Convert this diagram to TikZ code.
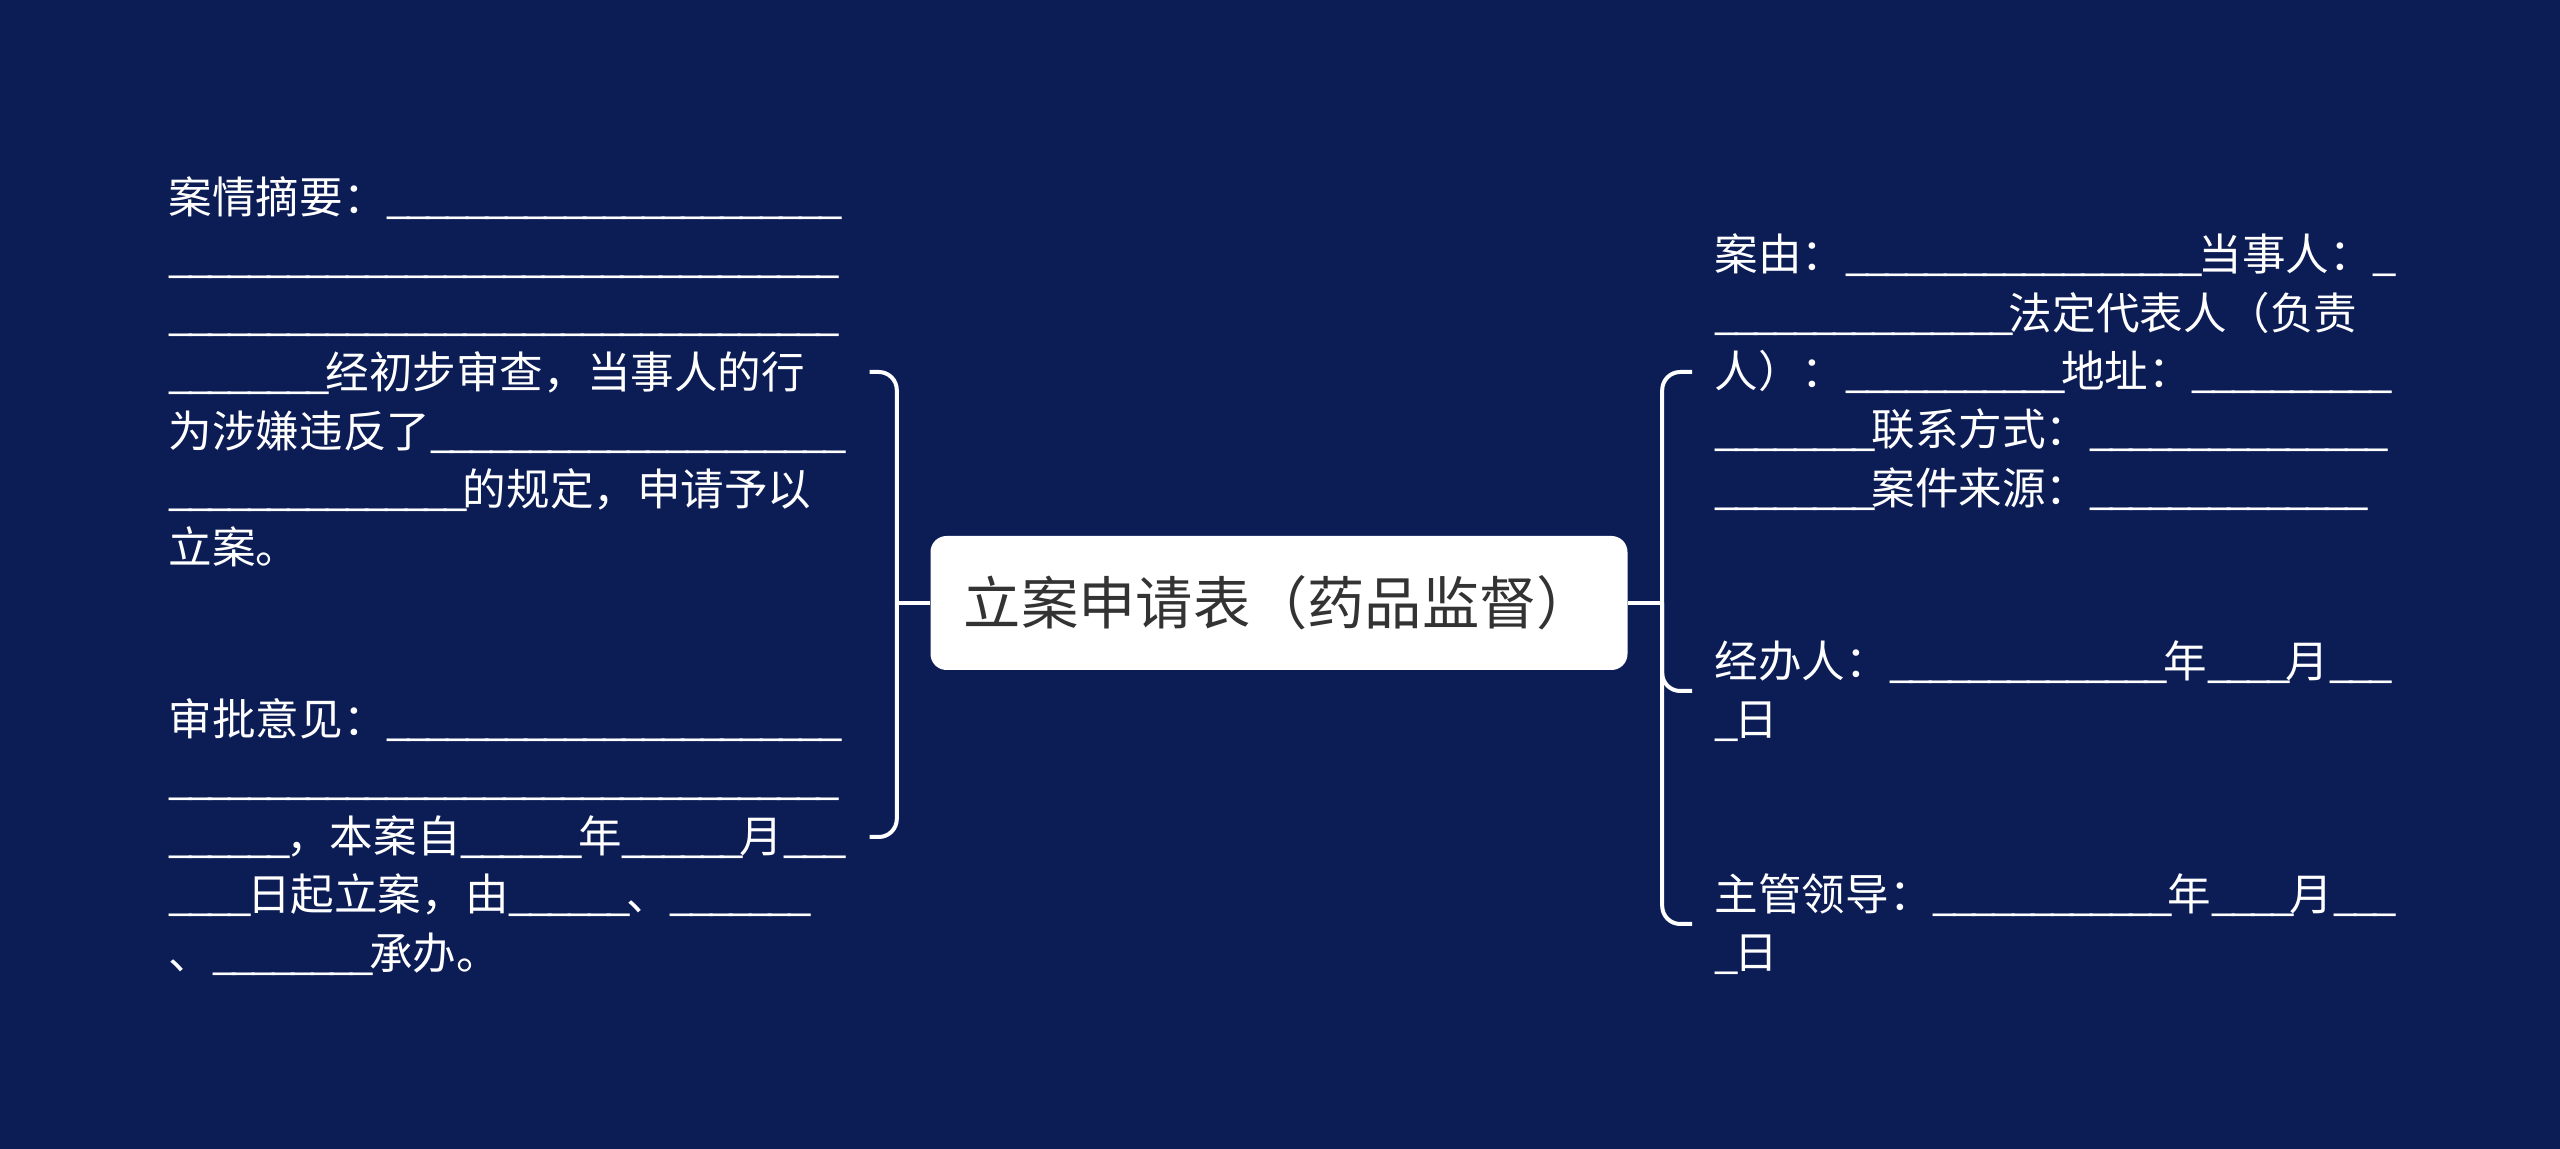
\documentclass[tikz,border=0pt]{standalone}
\usepackage{fontspec}
\setmainfont{Noto Sans CJK SC}
\usetikzlibrary{positioning}
\definecolor{bgnavy}{HTML}{0C1D56}
\definecolor{titlegray}{HTML}{333333}
\newcommand\blank[1]{\foreach\k in {1,...,#1}{\makebox[.45em][l]{\_}}}

\begin{document}
\begin{tikzpicture}
[x=0.1mm, y=-0.1mm,
root node/.style={rectangle, rounded corners=1.6mm, fill=white, text=titlegray,
  minimum width=69.7mm, minimum height=13.4mm, font=\fontsize{16.3pt}{20pt}\selectfont},
leaf node/.style={align=left, inner sep=0pt, text=white, font=\fontsize{12.4pt}{16.6pt}\selectfont},
branch/.style={draw=white, line width=0.4mm, rounded corners=1.8mm}]
\fill[bgnavy] (0,0) rectangle (2560,1149);

\node[root node] (root) at (1279,603) {立案申请表（药品监督）};

% left side
\node[leaf node, anchor=west] (summary) at (168,372) {案情摘要：\blank{23}\\ \blank{34}\\ \blank{34}\\ \blank{8}经初步审查，当事人的行\\ 为涉嫌违反了\blank{21}\\ \blank{15}的规定，申请予以\\ 立案。};
\node[leaf node, anchor=west] (approval) at (168,837) {审批意见：\blank{23}\\ \blank{34}\\ \blank{6}，本案自\blank{6}年\blank{6}月\blank{3}\\ \blank{4}日起立案，由\blank{6}、\blank{7}\\ 、\blank{8}承办。};

% right side
\node[leaf node, anchor=west] (cause) at (1714,372) {案由：\blank{18}当事人：\blank{1}\\ \blank{15}法定代表人（负责\\ 人）：\blank{11}地址：\blank{10}\\ \blank{8}联系方式：\blank{15}\\ \blank{8}案件来源：\blank{14}};
\node[leaf node, anchor=west] (handler) at (1714,691) {经办人：\blank{14}年\blank{4}月\blank{3}\\ \blank{1}日};
\node[leaf node, anchor=west] (leader) at (1714,924) {主管领导：\blank{12}年\blank{4}月\blank{3}\\ \blank{1}日};

\coordinate (lj) at ([xshift=-3.3mm]root.west);
\coordinate (rj) at ([xshift=3.4mm]root.east);

\draw[branch] (root.west) -- (lj);
\draw[branch] (lj) |- ([xshift=2.7mm]summary.east);
\draw[branch] (lj) |- ([xshift=2.7mm]approval.east);

\draw[branch] (root.east) -- (rj);
\draw[branch] (rj) |- ([xshift=-2.2mm]cause.west);
\draw[branch] (rj) |- ([xshift=-2.2mm]handler.west);
\draw[branch] (rj) |- ([xshift=-2.2mm]leader.west);
\end{tikzpicture}
\end{document}
